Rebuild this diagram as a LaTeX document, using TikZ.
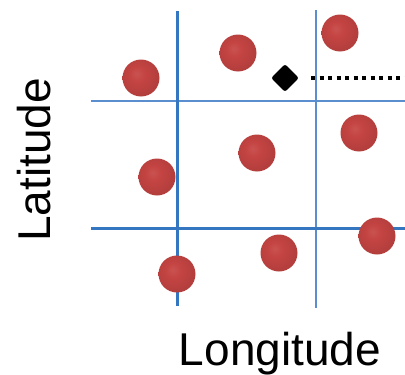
\documentclass[tikz,border=0pt]{standalone}
\usepackage{fontspec}
\setmainfont{Liberation Sans}
\usetikzlibrary{shapes.geometric}
\definecolor{ballmain}{RGB}{196,68,66}
\definecolor{balldark}{RGB}{95,36,36}
\definecolor{gridblue}{RGB}{52,118,192}
\definecolor{gridlight}{RGB}{90,142,206}
\pgfdeclareradialshading{redball}{\pgfpoint{-6bp}{6bp}}{%
  color(0bp)=(ballmain!92!white);
  color(10bp)=(ballmain);
  color(30bp)=(ballmain!80!balldark);
  color(50bp)=(balldark);
  color(70bp)=(balldark)}
\tikzset{
  ball/.style={circle, minimum size=37pt, inner sep=0pt, shading=redball},
  gridthick/.style={draw=gridblue, line width=3pt},
  gridthin/.style={draw=gridlight, line width=2pt},
  marker/.style={diamond, fill=black, minimum width=28pt, minimum height=28pt, inner sep=0pt, rounded corners=2.5pt},
  dotline/.style={line width=4pt, dash pattern=on 4pt off 4.5pt},
  axlabel/.style={font=\fontsize{46}{50}\selectfont, inner sep=0pt}
}
\begin{document}
\begin{tikzpicture}[x=1pt, y=-1pt]
\useasboundingbox (0,0) rectangle (405,375);
% grid
\coordinate (v1t) at (177,11);  \coordinate (v1b) at (177,306);
\coordinate (v2t) at (316,10);  \coordinate (v2b) at (316,308);
\coordinate (h1l) at (91,101);  \coordinate (h1r) at (405,101);
\coordinate (h2l) at (91,228);  \coordinate (h2r) at (405,228);
\draw[gridthin] (h1l) -- (h1r);
\draw[gridthin] (v2t) -- (v2b);
\draw[gridthick] (h2l) -- (h2r);
\draw[gridthick] (v1t) -- (v1b);
% balls
\node[ball] (b1) at (141,78) {};
\node[ball] (b2) at (238,53) {};
\node[ball] (b3) at (340,33) {};
\node[ball] (b4) at (157,177) {};
\node[ball] (b5) at (257,153) {};
\node[ball] (b6) at (359,133) {};
\node[ball] (b7) at (177,274) {};
\node[ball] (b8) at (279,253) {};
\node[ball] (b9) at (377,236) {};
% query point
\node[marker] (q) at (285,78) {};
\coordinate (qend) at (405,78);
\draw[dotline] ([xshift=12pt]q.east) -- (qend);
% labels
\node[axlabel, rotate=90, anchor=base] (lat) at (50,160) {Latitude};
\node[axlabel, anchor=base] (lon) at (280,365) {Longitude};
\end{tikzpicture}
\end{document}
